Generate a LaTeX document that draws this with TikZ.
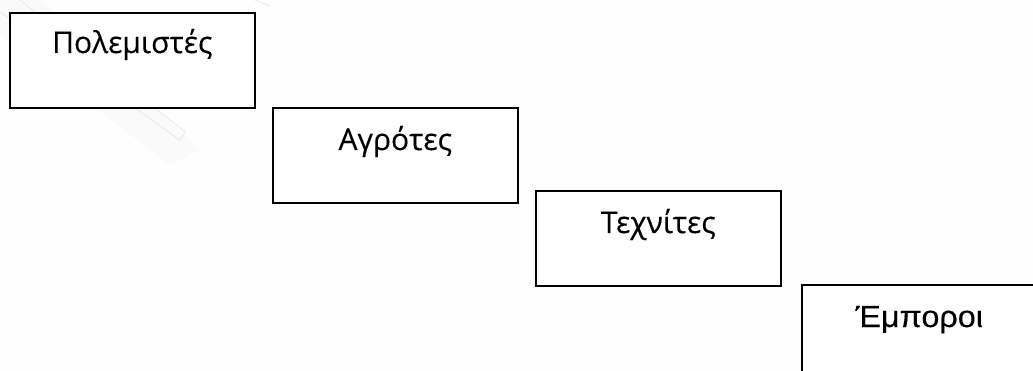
\documentclass[tikz,border=0pt]{standalone}
\usepackage{fontspec}
\newfontfamily\uifont[FakeBold=0.3]{Open Sans}
\newfontfamily\arialfont[FakeStretch=1.06,FakeBold=0.3]{Liberation Sans}
\tikzset{
  stepbox/.style={draw=black, line width=1.6pt, fill=white, rectangle,
    minimum width=245pt, minimum height=95pt, inner sep=0pt, anchor=north west},
  steplabel/.style={anchor=base, inner sep=0pt, font=\uifont\fontsize{30}{32}\selectfont},
  ghost/.style={draw=gray!16, line width=1pt, line cap=round},
}
\begin{document}
\begin{tikzpicture}[x=1pt, y=-1pt]
  \useasboundingbox (0,0) rectangle (1033,371);
  \clip (0,0) rectangle (1033,371);
  \fill[gray!1] (0,0) rectangle (1033,371);
  % faint diagonal shading in the upper-left corner
  \fill[gray!4] (0,0) -- (40,0) -- (200,150) -- (170,165) -- (0,35) -- cycle;
  \draw[ghost] (0,12) -- (180,140);
  \draw[ghost] (20,0) -- (185,132);
  \draw[ghost] (180,140) -- (185,132);
  \draw[ghost] (255,0) -- (270,6);
  % the four descending boxes
  \node[stepbox] (war) at (9,12) {};
  \node[stepbox] (farm) at (272,107) {};
  \node[stepbox] (craft) at (535,190) {};
  \node[stepbox] (trade) at (801,284) {};
  \node[steplabel] (warT) at ([yshift=-41pt]war.north) {Πολεμιστές};
  \node[steplabel] (farmT) at ([yshift=-43pt]farm.north) {Αγρότες};
  \node[steplabel] (craftT) at ([yshift=-43pt]craft.north) {Τεχνίτες};
  \node[steplabel, font=\arialfont\fontsize{30.5}{32}\selectfont, xshift=-5pt] (tradeT) at ([yshift=-43pt]trade.north) {Έμποροι};
\end{tikzpicture}
\end{document}
